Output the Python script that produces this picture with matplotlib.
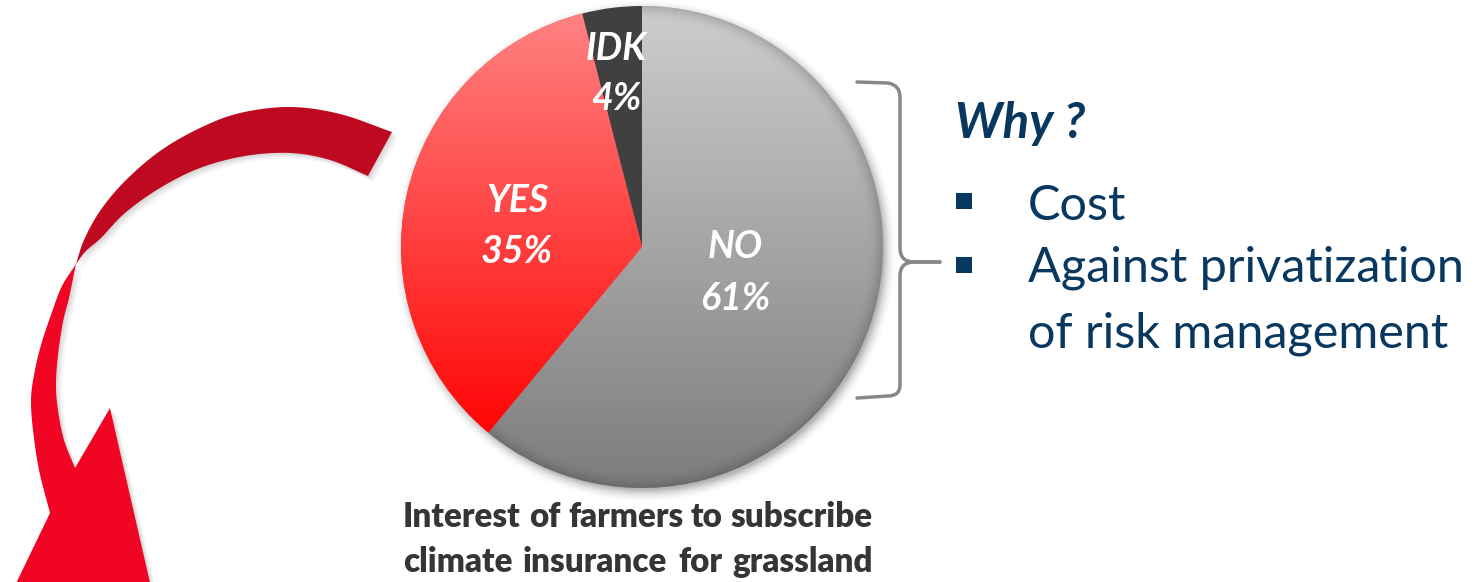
import numpy as np
import matplotlib
matplotlib.use("Agg")
import matplotlib.pyplot as plt
from matplotlib.colors import LinearSegmentedColormap
from matplotlib.patches import Polygon, Rectangle, PathPatch
from matplotlib.path import Path

# ---------------- data ----------------
categories = ["NO", "YES", "IDK"]
values = [61, 35, 4]
pct_labels = ["61%", "35%", "4%"]
title_lines = ["Interest of farmers to subscribe", "climate insurance for grassland"]
why_title = "Why ?"
reasons = ["Cost", "Against privatization\nof risk management"]

# ---------------- layout / style ----------------
W, H = 1479, 582
CX, CY, R = 642, 247, 241          # pie centre / radius (pixels, y down)
NAVY = "#08375f"
TITLE_COL = "#353535"

def Y(y):            # y-down pixel -> axes data (y up)
    return H - y

fig = plt.figure(figsize=(W / 100, H / 100), dpi=100)
ax = fig.add_axes([0, 0, 1, 1])
ax.set_xlim(0, W)
ax.set_ylim(0, H)
ax.axis("off")
renderer = fig.canvas.get_renderer()

def smooth(pts, n=16):
    pts = np.asarray(pts, float)
    P = np.vstack([2 * pts[0] - pts[1], pts, 2 * pts[-1] - pts[-2]])
    out = []
    t = np.linspace(0, 1, n, endpoint=False)[:, None]
    for i in range(1, len(P) - 2):
        p0, p1, p2, p3 = P[i - 1], P[i], P[i + 1], P[i + 2]
        out.append(0.5 * ((2 * p1) + (-p0 + p2) * t + (2 * p0 - 5 * p1 + 4 * p2 - p3) * t ** 2
                          + (-p0 + 3 * p1 - 3 * p2 + p3) * t ** 3))
    out.append(pts[-1:])
    return np.vstack(out)

def toup(arr):
    arr = np.asarray(arr, float).copy()
    arr[:, 1] = H - arr[:, 1]
    return arr

# ---------------- curved red arrow ----------------
upper_outer = smooth([(392, 132), (340, 114), (290, 107), (240, 113), (200, 128), (160, 151),
                      (125, 181), (100, 211), (84, 240), (76, 264)])
upper_inner = smooth([(76, 264), (86, 251), (101, 238), (125, 213), (160, 188), (200, 168),
                      (245, 156), (290, 153), (330, 160), (368, 176)])
dark_poly = np.vstack([upper_outer, upper_inner])

lower_left = smooth([(76, 264), (62, 286), (52, 312), (41, 345), (34, 375), (31, 400),
                     (33, 430), (39, 470), (50, 513)])
head = np.array([(8, 600), (178, 705), (110, 408)], float)
lower_right = smooth([(75, 468), (64, 440), (58, 410), (56, 385), (58, 355), (63, 322),
                      (69, 298), (76, 264)])
bright_poly = np.vstack([lower_left, head, lower_right])

for poly in (dark_poly, bright_poly):
    for k, a in ((6, 0.05), (4, 0.08), (2, 0.10)):
        sh = toup(poly) + np.array([k, -k])
        ax.add_patch(Polygon(sh, closed=True, facecolor="0.35", edgecolor="none",
                             alpha=a, zorder=1))
ax.add_patch(Polygon(toup(dark_poly), closed=True, facecolor="#be0920", edgecolor="none", zorder=2))
ax.add_patch(Polygon(toup(bright_poly), closed=True, facecolor="#f00525", edgecolor="none", zorder=2))

# ---------------- pie shadow ----------------
gx = np.linspace(CX - R - 30, CX + R + 30, 400)
gy = np.linspace(Y(CY) - R - 30, Y(CY) + R + 30, 400)
GX, GY = np.meshgrid(gx, gy)
d = np.hypot(GX - (CX + 3), GY - (Y(CY) - 4)) - R
alpha = 0.45 * np.clip(1 - (d + 2) / 14, 0, 1) ** 2
shadow = np.zeros(GX.shape + (4,))
shadow[..., :3] = 0.35
shadow[..., 3] = alpha
ax.imshow(shadow, extent=(gx[0], gx[-1], gy[0], gy[-1]), origin="lower",
          aspect="auto", zorder=3, interpolation="bilinear")

# ---------------- pie ----------------
wedges, _ = ax.pie(values, startangle=90, counterclock=False, center=(CX, Y(CY)), radius=R,
                   colors=["#aaaaaa", "#ff4040", "#404040"],
                   wedgeprops=dict(linewidth=0, zorder=4), frame=True)
ax.set_xlim(0, W)
ax.set_ylim(0, H)
ax.set_aspect("auto")
ax.axis("off")

gradients = {"NO": ("#7c7c7c", "#cdcdcd"), "YES": ("#ff0505", "#ff8282")}
grad = np.linspace(0, 1, 256).reshape(-1, 1)
for w, cat in zip(wedges, categories):
    w.set_zorder(4)
    if cat in gradients:
        v = w.get_path().vertices
        cm = LinearSegmentedColormap.from_list(cat, list(gradients[cat]))
        im = ax.imshow(grad, extent=(v[:, 0].min(), v[:, 0].max(), v[:, 1].min(), v[:, 1].max()),
                       origin="lower", cmap=cm, aspect="auto", zorder=4.5, interpolation="bilinear")
        im.set_clip_path(w)

# rim darkening on the grey slice
rx = np.linspace(CX - R, CX + R, 500)
ry = np.linspace(Y(CY) - R, Y(CY) + R, 500)
RX, RY = np.meshgrid(rx, ry)
rr = np.hypot(RX - CX, RY - Y(CY))
s = np.clip((rr - (R - 16)) / 16, 0, 1)
rim = np.zeros(RX.shape + (4,))
rim[..., 3] = 0.16 * s * s
im = ax.imshow(rim, extent=(rx[0], rx[-1], ry[0], ry[-1]), origin="lower", aspect="auto",
               zorder=4.6, interpolation="bilinear")
im.set_clip_path(wedges[0])

# slice labels
label_pos = {"NO": (735, 258, 310), "YES": (517, 212, 263), "IDK": (616, 60, 110)}
for cat, pct in zip(categories, pct_labels):
    x, y1, y2 = label_pos[cat]
    for txt, yy in ((cat, y1), (pct, y2)):
        ax.text(x, Y(yy), txt, ha="center", va="baseline", color="white", fontsize=27,
                fontfamily="Lato", fontweight="bold", fontstyle="italic", zorder=6)

# ---------------- bracket ----------------
up = [(857, 82), (888, 83), (900, 85), (900, 97), (900, 248), (900, 262), (914, 262), (940, 262)]
codes = [Path.MOVETO, Path.LINETO, Path.CURVE3, Path.CURVE3, Path.LINETO, Path.CURVE3,
         Path.CURVE3, Path.LINETO]
lo = [(940, 262), (914, 262), (900, 262), (900, 276), (900, 385), (900, 396), (888, 396), (857, 398)]
for pts in (up, lo):
    ax.add_patch(PathPatch(Path(toup(pts), codes), facecolor="none", edgecolor="#888888",
                           linewidth=2.5, capstyle="round", joinstyle="round", zorder=5))

# ---------------- right text ----------------
def text_width(s, **kw):
    t = ax.text(0, 0, s, **kw)
    wdt = t.get_window_extent(renderer).width
    t.remove()
    return wdt

why_kw = dict(fontfamily="Lato", fontweight="bold", fontstyle="italic", color=NAVY)
ws = 31 * 130 / text_width(why_title, fontsize=31, **why_kw)
ax.text(955, Y(138), why_title, fontsize=ws, va="baseline", ha="left", **why_kw)

body_kw = dict(fontfamily="Lato", color=NAVY)
bs = 32 * 437 / text_width("Against privatization", fontsize=32, **body_kw)
ax.text(1028, Y(220), reasons[0], fontsize=bs, va="baseline", ha="left", **body_kw)
line_a, line_b = reasons[1].split("\n")
ax.text(1028, Y(282), line_a, fontsize=bs, va="baseline", ha="left", **body_kw)
ax.text(1028, Y(347), line_b, fontsize=bs, va="baseline", ha="left", **body_kw)
for yb in (193, 257):
    ax.add_patch(Rectangle((956, Y(yb + 16)), 16, 16, facecolor=NAVY, edgecolor="none", zorder=5))

# ---------------- title (justified) ----------------
title_kw = dict(fontfamily="Lato", fontweight="heavy", color=TITLE_COL)
ts = 24 * 462 / text_width(title_lines[1], fontsize=24, **title_kw)
x0, x1 = 403, 873
for line, yb in zip(title_lines, (527, 572)):
    words = line.split()
    widths = [text_width(wd, fontsize=ts, **title_kw) for wd in words]
    gap = (x1 - x0 - sum(widths)) / (len(words) - 1)
    x = x0
    for wd, wdt in zip(words, widths):
        ax.text(x, Y(yb), wd, fontsize=ts, va="baseline", ha="left", **title_kw)
        x += wdt + gap

fig.savefig("out.png", dpi=100, facecolor="white")
